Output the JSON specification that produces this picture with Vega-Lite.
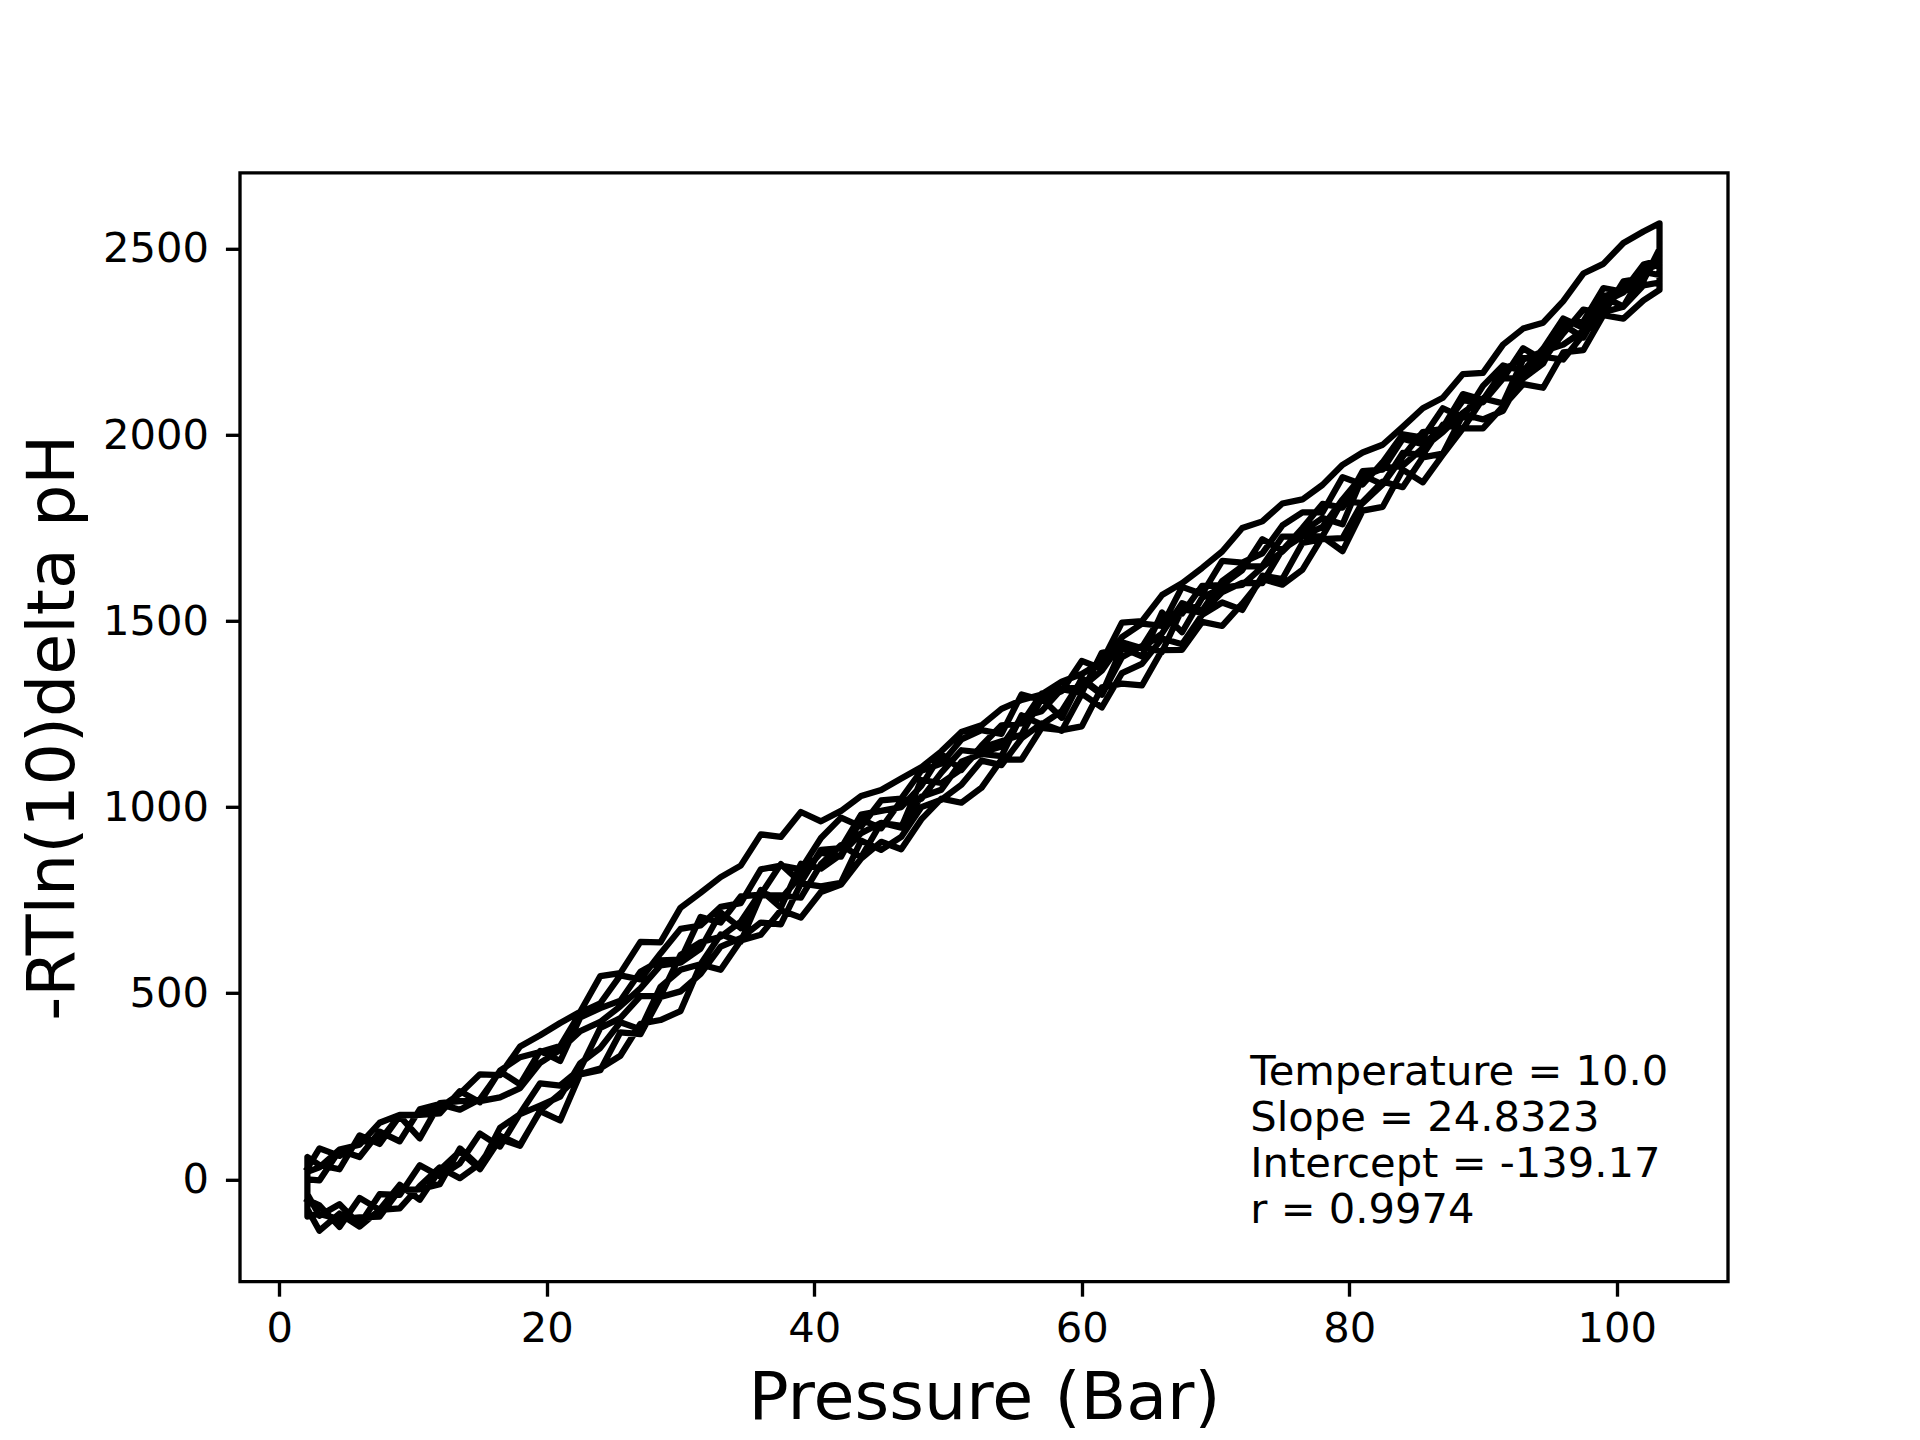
{
"$schema": "https://vega.github.io/schema/vega-lite/v6.json",
"autosize": {"type": "none"},
"padding": {"left": 240, "top": 172.8, "right": 192, "bottom": 158.4},
"width": 1488,
"height": 1108.8,
"background": "white",
"config": {
  "view": {"stroke": "black", "strokeWidth": 3.33},
  "font": "DejaVu Sans",
  "axis": {"domain": false, "grid": false, "tickColor": "black", "tickWidth": 3.33, "tickSize": 14.58, "labelFont": "DejaVu Sans", "labelFontSize": 41.67, "labelColor": "black", "titleFont": "DejaVu Sans", "titleFontSize": 66.67, "titleFontWeight": "normal", "titleColor": "black", "labelFlush": false, "labelOverlap": false}
},
"layer": [
{
"data": {"values": [
{"x":2.1,"y":-55},{"x":3,"y":-70},{"x":4.5,"y":-128},{"x":6,"y":-50},{"x":7.5,"y":-82},{"x":9,"y":-15},{"x":10.5,"y":-55},{"x":12,"y":25},{"x":13.5,"y":75},{"x":15,"y":27},{"x":16.5,"y":108},{"x":18,"y":90},{"x":19.5,"y":185},{"x":21,"y":230},{"x":22.5,"y":282},{"x":24,"y":293},{"x":25.5,"y":395},{"x":27,"y":390},{"x":28.5,"y":490},{"x":30,"y":505},{"x":31.5,"y":552},{"x":33,"y":625},{"x":34.5,"y":648},{"x":36,"y":690},{"x":37.5,"y":685},{"x":39,"y":795},{"x":40.5,"y":787},{"x":42,"y":797},{"x":43.5,"y":910},{"x":45,"y":885},{"x":46.5,"y":920},{"x":48,"y":1000},{"x":49.5,"y":1020},{"x":51,"y":1060},{"x":52.5,"y":1125},{"x":54,"y":1113},{"x":55.5,"y":1185},{"x":57,"y":1225},{"x":58.5,"y":1205},{"x":60,"y":1305},{"x":61.5,"y":1268},{"x":63,"y":1360},{"x":64.5,"y":1385},{"x":66,"y":1453},{"x":67.5,"y":1438},{"x":69,"y":1517},{"x":70.5,"y":1550},{"x":72,"y":1530},{"x":73.5,"y":1622},{"x":75,"y":1613},{"x":76.5,"y":1710},{"x":78,"y":1720},{"x":79.5,"y":1723},{"x":81,"y":1820},{"x":82.5,"y":1875},{"x":84,"y":1860},{"x":85.5,"y":1940},{"x":87,"y":1950},{"x":88.5,"y":2055},{"x":90,"y":2042},{"x":91.5,"y":2065},{"x":93,"y":2163},{"x":94.5,"y":2210},{"x":96,"y":2203},{"x":97.5,"y":2270},{"x":99,"y":2330},{"x":100.5,"y":2345},{"x":102,"y":2402},{"x":103.2,"y":2410},
{"x":103.2,"y":2569},{"x":102,"y":2547},{"x":100.5,"y":2516},{"x":99,"y":2460},{"x":97.5,"y":2434},{"x":96,"y":2360},{"x":94.5,"y":2302},{"x":93,"y":2286},{"x":91.5,"y":2243},{"x":90,"y":2167},{"x":88.5,"y":2164},{"x":87,"y":2100},{"x":85.5,"y":2072},{"x":84,"y":2022},{"x":82.5,"y":1974},{"x":81,"y":1953},{"x":79.5,"y":1920},{"x":78,"y":1866},{"x":76.5,"y":1827},{"x":75,"y":1816},{"x":73.5,"y":1768},{"x":72,"y":1750},{"x":70.5,"y":1687},{"x":69,"y":1643},{"x":67.5,"y":1602},{"x":66,"y":1570},{"x":64.5,"y":1500},{"x":63,"y":1496},{"x":61.5,"y":1390},{"x":60,"y":1358},{"x":58.5,"y":1337},{"x":57,"y":1303},{"x":55.5,"y":1288},{"x":54,"y":1264},{"x":52.5,"y":1220},{"x":51,"y":1202},{"x":49.5,"y":1150},{"x":48,"y":1107},{"x":46.5,"y":1077},{"x":45,"y":1046},{"x":43.5,"y":1030},{"x":42,"y":990},{"x":40.5,"y":962},{"x":39,"y":987},{"x":37.5,"y":920},{"x":36,"y":927},{"x":34.5,"y":843},{"x":33,"y":812},{"x":31.5,"y":770},{"x":30,"y":730},{"x":28.5,"y":637},{"x":27,"y":638},{"x":25.5,"y":554},{"x":24,"y":546},{"x":22.5,"y":450},{"x":21,"y":420},{"x":19.5,"y":387},{"x":18,"y":357},{"x":16.5,"y":280},{"x":15,"y":282},{"x":13.5,"y":230},{"x":12,"y":193},{"x":10.5,"y":173},{"x":9,"y":173},{"x":7.5,"y":152},{"x":6,"y":93},{"x":4.5,"y":80},{"x":3,"y":32},{"x":2.1,"y":20},
{"x":2.1,"y":-100},{"x":3,"y":-93},{"x":4.5,"y":-107},{"x":6,"y":-102},{"x":7.5,"y":-100},{"x":9,"y":-28},{"x":10.5,"y":-27},{"x":12,"y":-13},{"x":13.5,"y":83},{"x":15,"y":33},{"x":16.5,"y":138},{"x":18,"y":175},{"x":19.5,"y":198},{"x":21,"y":222},{"x":22.5,"y":312},{"x":24,"y":353},{"x":25.5,"y":422},{"x":27,"y":403},{"x":28.5,"y":517},{"x":30,"y":563},{"x":31.5,"y":578},{"x":33,"y":658},{"x":34.5,"y":638},{"x":36,"y":763},{"x":37.5,"y":763},{"x":39,"y":757},{"x":40.5,"y":847},{"x":42,"y":898},{"x":43.5,"y":865},{"x":45,"y":958},{"x":46.5,"y":950},{"x":48,"y":1028},{"x":49.5,"y":1047},{"x":51,"y":1122},{"x":52.5,"y":1143},{"x":54,"y":1137},{"x":55.5,"y":1247},{"x":57,"y":1222},{"x":58.5,"y":1258},{"x":60,"y":1343},{"x":61.5,"y":1302},{"x":63,"y":1403},{"x":64.5,"y":1433},{"x":66,"y":1417},{"x":67.5,"y":1532},{"x":69,"y":1523},{"x":70.5,"y":1578},{"x":72,"y":1603},{"x":73.5,"y":1602},{"x":75,"y":1693},{"x":76.5,"y":1728},{"x":78,"y":1728},{"x":79.5,"y":1823},{"x":81,"y":1817},{"x":82.5,"y":1867},{"x":84,"y":1952},{"x":85.5,"y":1947},{"x":87,"y":2028},{"x":88.5,"y":2017},{"x":90,"y":2098},{"x":91.5,"y":2153},{"x":93,"y":2152},{"x":94.5,"y":2192},{"x":96,"y":2297},{"x":97.5,"y":2262},{"x":99,"y":2357},{"x":100.5,"y":2383},{"x":102,"y":2442},{"x":103.2,"y":2460},
{"x":103.2,"y":2500},{"x":102,"y":2415},{"x":100.5,"y":2385},{"x":99,"y":2395},{"x":97.5,"y":2305},{"x":96,"y":2295},{"x":94.5,"y":2205},{"x":93,"y":2207},{"x":91.5,"y":2173},{"x":90,"y":2095},{"x":88.5,"y":2110},{"x":87,"y":2020},{"x":85.5,"y":1975},{"x":84,"y":1990},{"x":82.5,"y":1907},{"x":81,"y":1903},{"x":79.5,"y":1805},{"x":78,"y":1815},{"x":76.5,"y":1750},{"x":75,"y":1690},{"x":73.5,"y":1720},{"x":72,"y":1637},{"x":70.5,"y":1597},{"x":69,"y":1595},{"x":67.5,"y":1520},{"x":66,"y":1515},{"x":64.5,"y":1430},{"x":63,"y":1425},{"x":61.5,"y":1415},{"x":60,"y":1307},{"x":58.5,"y":1317},{"x":57,"y":1305},{"x":55.5,"y":1225},{"x":54,"y":1220},{"x":52.5,"y":1165},{"x":51,"y":1100},{"x":49.5,"y":1143},{"x":48,"y":1057},{"x":46.5,"y":1000},{"x":45,"y":990},{"x":43.5,"y":980},{"x":42,"y":890},{"x":40.5,"y":885},{"x":39,"y":797},{"x":37.5,"y":847},{"x":36,"y":765},{"x":34.5,"y":760},{"x":33,"y":690},{"x":31.5,"y":705},{"x":30,"y":590},{"x":28.5,"y":588},{"x":27,"y":558},{"x":25.5,"y":480},{"x":24,"y":460},{"x":22.5,"y":435},{"x":21,"y":318},{"x":19.5,"y":345},{"x":18,"y":255},{"x":16.5,"y":290},{"x":15,"y":215},{"x":13.5,"y":187},{"x":12,"y":202},{"x":10.5,"y":188},{"x":9,"y":102},{"x":7.5,"y":128},{"x":6,"y":60},{"x":4.5,"y":78},{"x":3,"y":-3},{"x":2.1,"y":0},
{"x":2.1,"y":-40},{"x":3,"y":-98},{"x":4.5,"y":-67},{"x":6,"y":-122},{"x":7.5,"y":-40},{"x":9,"y":-42},{"x":10.5,"y":38},{"x":12,"y":8},{"x":13.5,"y":43},{"x":15,"y":123},{"x":16.5,"y":88},{"x":18,"y":177},{"x":19.5,"y":258},{"x":21,"y":252},{"x":22.5,"y":297},{"x":24,"y":407},{"x":25.5,"y":433},{"x":27,"y":492},{"x":28.5,"y":492},{"x":30,"y":603},{"x":31.5,"y":637},{"x":33,"y":652},{"x":34.5,"y":692},{"x":36,"y":772},{"x":37.5,"y":753},{"x":39,"y":817},{"x":40.5,"y":878},{"x":42,"y":867},{"x":43.5,"y":967},{"x":45,"y":943},{"x":46.5,"y":1018},{"x":48,"y":1022},{"x":49.5,"y":1093},{"x":51,"y":1153},{"x":52.5,"y":1147},{"x":54,"y":1163},{"x":55.5,"y":1242},{"x":57,"y":1258},{"x":58.5,"y":1318},{"x":60,"y":1322},{"x":61.5,"y":1367},{"x":63,"y":1443},{"x":64.5,"y":1427},{"x":66,"y":1467},{"x":67.5,"y":1548},{"x":69,"y":1528},{"x":70.5,"y":1608},{"x":72,"y":1647},{"x":73.5,"y":1648},{"x":75,"y":1727},{"x":76.5,"y":1728},{"x":78,"y":1753},{"x":79.5,"y":1827},{"x":81,"y":1892},{"x":82.5,"y":1867},{"x":84,"y":1942},{"x":85.5,"y":2008},{"x":87,"y":2017},{"x":88.5,"y":2093},{"x":90,"y":2088},{"x":91.5,"y":2152},{"x":93,"y":2233},{"x":94.5,"y":2202},{"x":96,"y":2273},{"x":97.5,"y":2337},{"x":99,"y":2327},{"x":100.5,"y":2413},{"x":102,"y":2422},{"x":103.2,"y":2480},
{"x":103.2,"y":2430},{"x":102,"y":2438},{"x":100.5,"y":2345},{"x":99,"y":2372},{"x":97.5,"y":2280},{"x":96,"y":2243},{"x":94.5,"y":2225},{"x":93,"y":2203},{"x":91.5,"y":2085},{"x":90,"y":2098},{"x":88.5,"y":2060},{"x":87,"y":2008},{"x":85.5,"y":1965},{"x":84,"y":1918},{"x":82.5,"y":1910},{"x":81,"y":1888},{"x":79.5,"y":1760},{"x":78,"y":1777},{"x":76.5,"y":1740},{"x":75,"y":1687},{"x":73.5,"y":1645},{"x":72,"y":1597},{"x":70.5,"y":1590},{"x":69,"y":1563},{"x":67.5,"y":1470},{"x":66,"y":1523},{"x":64.5,"y":1405},{"x":63,"y":1428},{"x":61.5,"y":1305},{"x":60,"y":1347},{"x":58.5,"y":1240},{"x":57,"y":1292},{"x":55.5,"y":1195},{"x":54,"y":1177},{"x":52.5,"y":1160},{"x":51,"y":1102},{"x":49.5,"y":1065},{"x":48,"y":1073},{"x":46.5,"y":945},{"x":45,"y":958},{"x":43.5,"y":930},{"x":42,"y":873},{"x":40.5,"y":835},{"x":39,"y":848},{"x":37.5,"y":730},{"x":36,"y":777},{"x":34.5,"y":675},{"x":33,"y":717},{"x":31.5,"y":620},{"x":30,"y":582},{"x":28.5,"y":575},{"x":27,"y":513},{"x":25.5,"y":465},{"x":24,"y":423},{"x":22.5,"y":398},{"x":21,"y":348},{"x":19.5,"y":313},{"x":18,"y":245},{"x":16.5,"y":220},{"x":15,"y":210},{"x":13.5,"y":210},{"x":12,"y":205},{"x":10.5,"y":110},{"x":9,"y":170},{"x":7.5,"y":95},{"x":6,"y":118},{"x":4.5,"y":27},{"x":3,"y":38},{"x":2.1,"y":60},
{"x":2.1,"y":-80},{"x":3,"y":-138},{"x":4.5,"y":-92},{"x":6,"y":-127},{"x":7.5,"y":-82},{"x":9,"y":-78},{"x":10.5,"y":-18},{"x":12,"y":32},{"x":13.5,"y":3},{"x":15,"y":42},{"x":16.5,"y":117},{"x":18,"y":92},{"x":19.5,"y":183},{"x":21,"y":158},{"x":22.5,"y":283},{"x":24,"y":298},{"x":25.5,"y":332},{"x":27,"y":418},{"x":28.5,"y":428},{"x":30,"y":452},{"x":31.5,"y":577},{"x":33,"y":563},{"x":34.5,"y":642},{"x":36,"y":657},{"x":37.5,"y":723},{"x":39,"y":703},{"x":40.5,"y":772},{"x":42,"y":792},{"x":43.5,"y":862},{"x":45,"y":907},{"x":46.5,"y":887},{"x":48,"y":967},{"x":49.5,"y":1023},{"x":51,"y":1012},{"x":52.5,"y":1052},{"x":54,"y":1128},{"x":55.5,"y":1128},{"x":57,"y":1213},{"x":58.5,"y":1207},{"x":60,"y":1217},{"x":61.5,"y":1322},{"x":63,"y":1332},{"x":64.5,"y":1327},{"x":66,"y":1422},{"x":67.5,"y":1423},{"x":69,"y":1498},{"x":70.5,"y":1487},{"x":72,"y":1547},{"x":73.5,"y":1613},{"x":75,"y":1598},{"x":76.5,"y":1638},{"x":78,"y":1727},{"x":79.5,"y":1688},{"x":81,"y":1797},{"x":82.5,"y":1807},{"x":84,"y":1907},{"x":85.5,"y":1873},{"x":87,"y":1947},{"x":88.5,"y":2018},{"x":90,"y":2018},{"x":91.5,"y":2077},{"x":93,"y":2137},{"x":94.5,"y":2127},{"x":96,"y":2222},{"x":97.5,"y":2228},{"x":99,"y":2322},{"x":100.5,"y":2313},{"x":102,"y":2362},{"x":103.2,"y":2390},
{"x":103.2,"y":2470},{"x":102,"y":2458},{"x":100.5,"y":2387},{"x":99,"y":2373},{"x":97.5,"y":2288},{"x":96,"y":2313},{"x":94.5,"y":2232},{"x":93,"y":2172},{"x":91.5,"y":2187},{"x":90,"y":2132},{"x":88.5,"y":2047},{"x":87,"y":2072},{"x":85.5,"y":1993},{"x":84,"y":2002},{"x":82.5,"y":1927},{"x":81,"y":1867},{"x":79.5,"y":1887},{"x":78,"y":1792},{"x":76.5,"y":1792},{"x":75,"y":1757},{"x":73.5,"y":1682},{"x":72,"y":1657},{"x":70.5,"y":1662},{"x":69,"y":1573},{"x":67.5,"y":1592},{"x":66,"y":1487},{"x":64.5,"y":1493},{"x":63,"y":1457},{"x":61.5,"y":1372},{"x":60,"y":1393},{"x":58.5,"y":1312},{"x":57,"y":1288},{"x":55.5,"y":1303},{"x":54,"y":1197},{"x":52.5,"y":1207},{"x":51,"y":1182},{"x":49.5,"y":1117},{"x":48,"y":1098},{"x":46.5,"y":1023},{"x":45,"y":1018},{"x":43.5,"y":948},{"x":42,"y":972},{"x":40.5,"y":917},{"x":39,"y":833},{"x":37.5,"y":843},{"x":36,"y":833},{"x":34.5,"y":742},{"x":33,"y":732},{"x":31.5,"y":682},{"x":30,"y":673},{"x":28.5,"y":607},{"x":27,"y":537},{"x":25.5,"y":548},{"x":24,"y":473},{"x":22.5,"y":448},{"x":21,"y":358},{"x":19.5,"y":342},{"x":18,"y":328},{"x":16.5,"y":292},{"x":15,"y":207},{"x":13.5,"y":237},{"x":12,"y":177},{"x":10.5,"y":173},{"x":9,"y":172},{"x":7.5,"y":103},{"x":6,"y":102},{"x":4.5,"y":63},{"x":3,"y":83},{"x":2.1,"y":30}
]},
"mark": {"type": "line", "color": "black", "strokeWidth": 6.25, "strokeJoin": "round", "strokeCap": "square"},
"encoding": {
  "x": {"field": "x", "type": "quantitative", "scale": {"domain": [-2.94, 108.32], "nice": false, "zero": false},
    "axis": {"values": [0, 20, 40, 60, 80, 100], "format": "d", "title": "Pressure (Bar)", "labelBaseline": "alphabetic", "labelPadding": 45.5, "titleBaseline": "alphabetic", "titleX": 744, "titleY": 136.7, "titleAlign": "center", "titleAnchor": null}},
  "y": {"field": "y", "type": "quantitative", "scale": {"domain": [-274.9, 2704.7], "nice": false, "zero": false},
    "axis": {"values": [0, 500, 1000, 1500, 2000, 2500], "format": "d", "title": "-RTln(10)delta pH", "labelBaseline": "middle", "labelPadding": 17, "titleBaseline": "alphabetic", "titleAngle": 270, "titleX": -167, "titleY": 554.4, "titleAlign": "center", "titleAnchor": null}},
  "order": {"value": null}
}
},
{
"data": {"values": [{}]},
"mark": {"type": "text", "align": "left", "baseline": "alphabetic", "font": "DejaVu Sans", "fontSize": 41.67, "lineHeight": 46, "color": "black",
  "text": ["Temperature = 10.0", "Slope = 24.8323", "Intercept = -139.17", "r = 0.9974"]},
"encoding": {
  "x": {"datum": 72.6, "type": "quantitative"},
  "y": {"datum": 253.4, "type": "quantitative"}
}
}
]
}
